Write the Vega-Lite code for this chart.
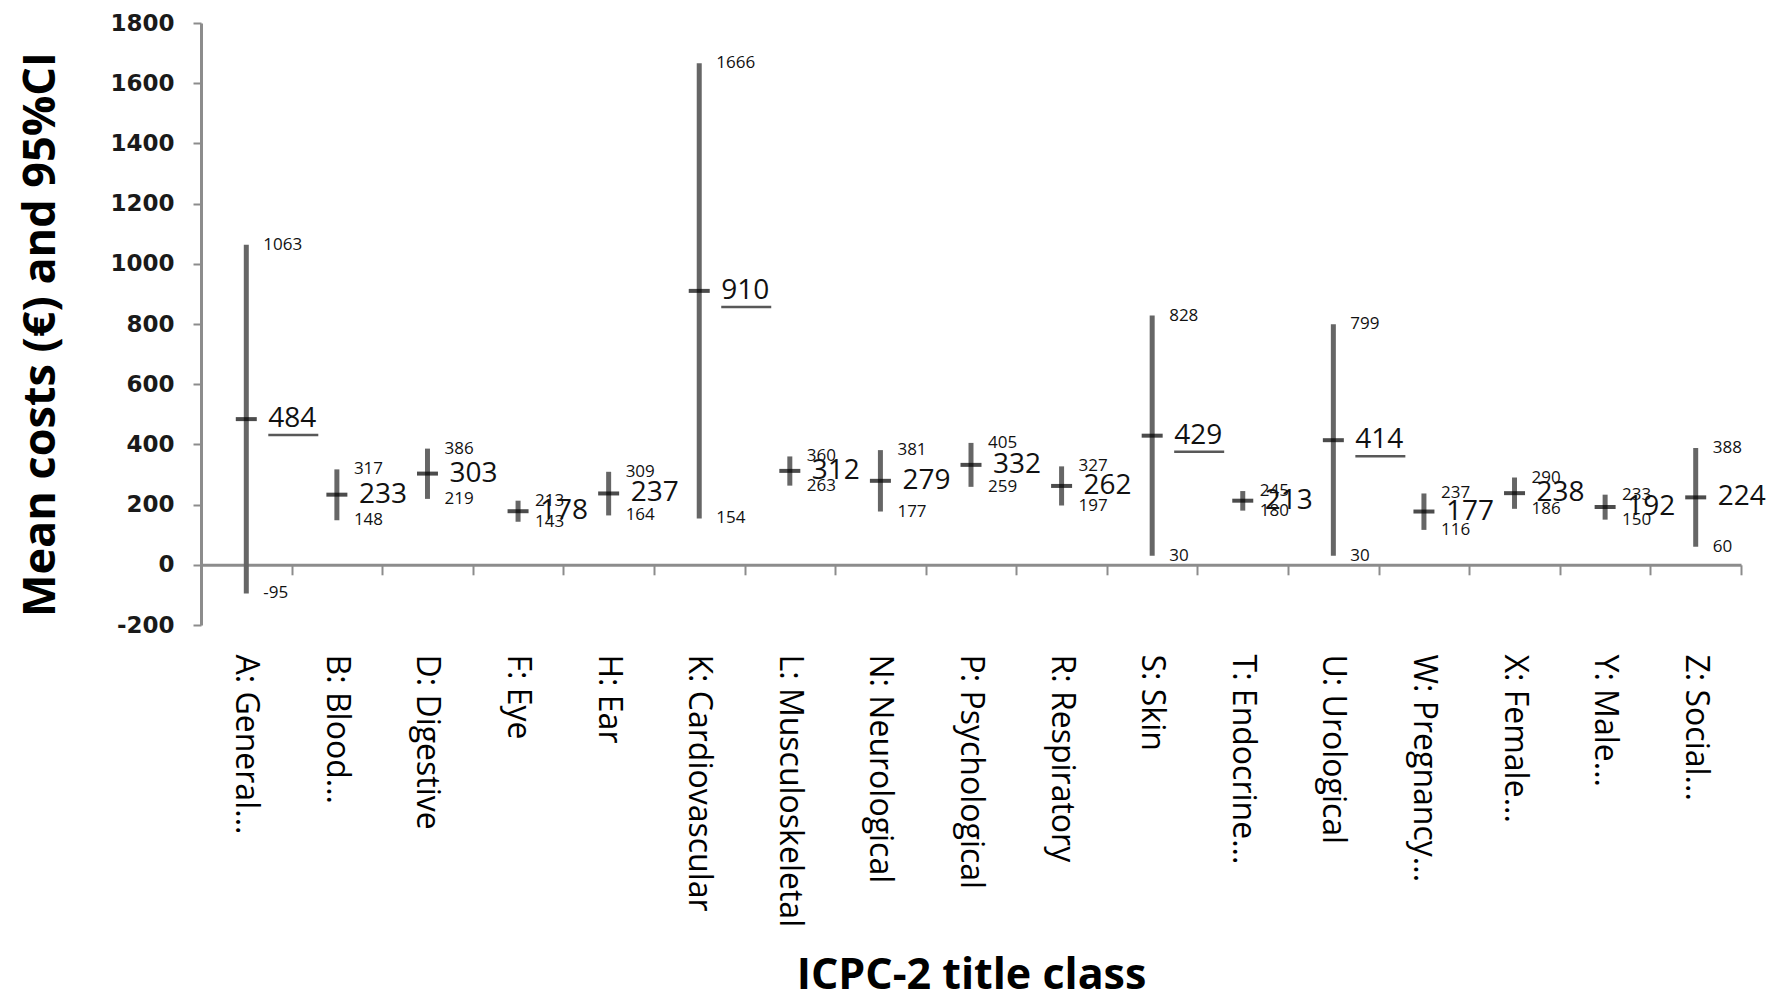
{
  "$schema": "https://vega.github.io/schema/vega-lite/v6.json",
  "width": 1540,
  "height": 602,
  "autosize": "none",
  "padding": {"left": 201, "top": 23, "right": 32, "bottom": 376},
  "background": "white",
  "config": {
    "view": {"stroke": null},
    "axisY": {
      "grid": false,
      "domainColor": "#8c8c8c",
      "domainWidth": 3,
      "tickColor": "#8c8c8c",
      "tickWidth": 2,
      "tickSize": 8,
      "labelFont": "DejaVu Sans",
      "labelFontWeight": "bold",
      "labelFontSize": 23,
      "labelColor": "#1a1a1a",
      "labelPadding": 19,
      "titleFont": "Open Sans",
      "titleFontSize": 45,
      "titleFontWeight": "bold",
      "titleColor": "black",
      "titleX": -161,
      "titleY": 311,
      "titleAlign": "center",
      "titleBaseline": "middle",
      "titleAngle": -90
    }
  },
  "data": {
    "values": [
      {"cat": "A: General...", "mean": 484, "lo": -95, "hi": 1063},
      {"cat": "B: Blood...", "mean": 233, "lo": 148, "hi": 317},
      {"cat": "D: Digestive", "mean": 303, "lo": 219, "hi": 386},
      {"cat": "F: Eye", "mean": 178, "lo": 143, "hi": 213},
      {"cat": "H: Ear", "mean": 237, "lo": 164, "hi": 309},
      {"cat": "K: Cardiovascular", "mean": 910, "lo": 154, "hi": 1666},
      {"cat": "L: Musculoskeletal", "mean": 312, "lo": 263, "hi": 360},
      {"cat": "N: Neurological", "mean": 279, "lo": 177, "hi": 381},
      {"cat": "P: Psychological", "mean": 332, "lo": 259, "hi": 405},
      {"cat": "R: Respiratory", "mean": 262, "lo": 197, "hi": 327},
      {"cat": "S: Skin", "mean": 429, "lo": 30, "hi": 828},
      {"cat": "T: Endocrine...", "mean": 213, "lo": 180, "hi": 245},
      {"cat": "U: Urological", "mean": 414, "lo": 30, "hi": 799},
      {"cat": "W: Pregnancy...", "mean": 177, "lo": 116, "hi": 237},
      {"cat": "X: Female...", "mean": 238, "lo": 186, "hi": 290},
      {"cat": "Y: Male...", "mean": 192, "lo": 150, "hi": 233},
      {"cat": "Z: Social...", "mean": 224, "lo": 60, "hi": 388}
    ]
  },
  "layer": [
    {
      "mark": {"type": "rule", "color": "#666666", "strokeWidth": 5},
      "encoding": {
        "x": {
          "field": "cat", "type": "nominal", "sort": null,
          "scale": {"type": "band", "paddingInner": 0, "paddingOuter": 0},
          "axis": {
            "orient": "bottom", "offset": -60.2, "labels": false, "title": null,
            "domainColor": "#8c8c8c", "domainWidth": 3,
            "tickColor": "#8c8c8c", "tickWidth": 2, "tickSize": 10,
            "tickBand": "extent", "grid": false
          }
        },
        "y": {"field": "lo", "type": "quantitative", "scale": {"domain": [-200, 1800], "nice": false, "zero": false}, "title": "Mean costs (€) and 95%CI", "axis": {"values": [-200, 0, 200, 400, 600, 800, 1000, 1200, 1400, 1600, 1800], "labelExpr": "'' + datum.value"}},
        "y2": {"field": "hi"}
      }
    },
    {
      "mark": {"type": "tick", "color": "black", "thickness": 4, "size": 21},
      "encoding": {
        "x": {
          "field": "cat", "type": "nominal", "sort": null,
          "scale": {"type": "band", "paddingInner": 0, "paddingOuter": 0},
          "axis": {
            "orient": "bottom", "labelAngle": 90, "labelAlign": "left", "labelBaseline": "middle",
            "labelFont": "Open Sans", "labelFontSize": 32, "labelColor": "black", "labelLimit": 0,
            "labelPadding": 29, "domain": false, "ticks": false, "grid": false,
            "title": "ICPC-2 title class", "titleFont": "Open Sans", "titleFontWeight": "bold",
            "titleFontSize": 43, "titleColor": "black", "titleY": 350, "titleBaseline": "middle"
          }
        },
        "y": {"field": "mean", "type": "quantitative", "scale": {"domain": [-200, 1800], "nice": false, "zero": false}, "title": "Mean costs (€) and 95%CI", "axis": {"values": [-200, 0, 200, 400, 600, 800, 1000, 1200, 1400, 1600, 1800], "labelExpr": "'' + datum.value"}}
      }
    },
    {
      "mark": {"type": "text", "align": "left", "baseline": "middle", "dx": 22, "font": "Open Sans", "fontSize": 28, "color": "#111111"},
      "encoding": {
        "x": {"field": "cat", "type": "nominal", "sort": null, "scale": {"type": "band", "paddingInner": 0, "paddingOuter": 0}, "axis": null},
        "y": {"field": "mean", "type": "quantitative", "scale": {"domain": [-200, 1800], "nice": false, "zero": false}, "title": "Mean costs (€) and 95%CI", "axis": {"values": [-200, 0, 200, 400, 600, 800, 1000, 1200, 1400, 1600, 1800], "labelExpr": "'' + datum.value"}},
        "text": {"field": "mean", "type": "nominal"}
      }
    },
    {
      "mark": {"type": "text", "align": "left", "baseline": "middle", "dx": 17, "font": "Open Sans", "fontSize": 17, "color": "#111111"},
      "encoding": {
        "x": {"field": "cat", "type": "nominal", "sort": null, "scale": {"type": "band", "paddingInner": 0, "paddingOuter": 0}, "axis": null},
        "y": {"field": "hi", "type": "quantitative", "scale": {"domain": [-200, 1800], "nice": false, "zero": false}, "title": "Mean costs (€) and 95%CI", "axis": {"values": [-200, 0, 200, 400, 600, 800, 1000, 1200, 1400, 1600, 1800], "labelExpr": "'' + datum.value"}},
        "text": {"field": "hi", "type": "nominal"}
      }
    },
    {
      "mark": {"type": "text", "align": "left", "baseline": "middle", "dx": 17, "font": "Open Sans", "fontSize": 17, "color": "#111111"},
      "encoding": {
        "x": {"field": "cat", "type": "nominal", "sort": null, "scale": {"type": "band", "paddingInner": 0, "paddingOuter": 0}, "axis": null},
        "y": {"field": "lo", "type": "quantitative", "scale": {"domain": [-200, 1800], "nice": false, "zero": false}, "title": "Mean costs (€) and 95%CI", "axis": {"values": [-200, 0, 200, 400, 600, 800, 1000, 1200, 1400, 1600, 1800], "labelExpr": "'' + datum.value"}},
        "text": {"field": "lo", "type": "nominal"}
      }
    },
    {
      "transform": [{"filter": "datum.hi - datum.lo > 700"}],
      "mark": {"type": "tick", "color": "#111111", "thickness": 2.5, "size": 50, "xOffset": 47, "yOffset": 16},
      "encoding": {
        "x": {"field": "cat", "type": "nominal", "sort": null, "scale": {"type": "band", "paddingInner": 0, "paddingOuter": 0}, "axis": null},
        "y": {"field": "mean", "type": "quantitative", "scale": {"domain": [-200, 1800], "nice": false, "zero": false}, "title": "Mean costs (€) and 95%CI", "axis": {"values": [-200, 0, 200, 400, 600, 800, 1000, 1200, 1400, 1600, 1800], "labelExpr": "'' + datum.value"}}
      }
    }
  ],
  "resolve": {"axis": {"x": "independent"}}
}
